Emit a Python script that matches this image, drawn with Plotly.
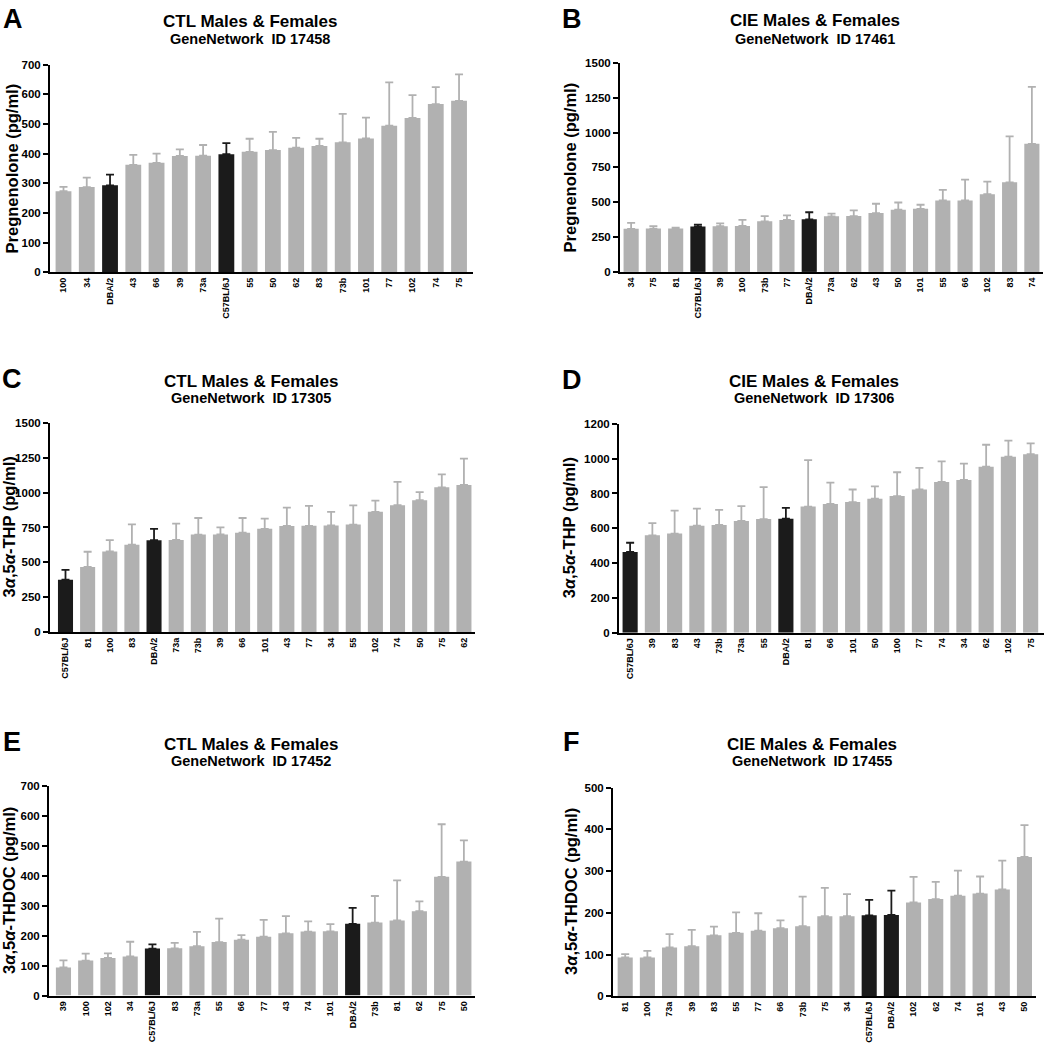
import plotly.graph_objects as go

W, H = 1044, 1050
FONT = "Liberation Sans, Arial, sans-serif"

# ---------------- data ----------------
highlight = ["C57BL/6J", "DBA/2"]

A_cats = ["100", "34", "DBA/2", "43", "66", "39", "73a", "C57BL/6J", "55", "50", "62", "83", "73b", "101", "77", "102", "74", "75"]
A_mean = [273, 287, 293, 362, 369, 392, 393, 398, 406, 412, 420, 426, 438, 451, 494, 520, 567, 578]
A_sem = [15, 32, 36, 34, 31, 22, 36, 37, 44, 61, 33, 24, 96, 70, 146, 77, 57, 89]

B_cats = ["34", "75", "81", "C57BL/6J", "39", "100", "73b", "77", "DBA/2", "73a", "62", "43", "50", "101", "55", "66", "102", "83", "74"]
B_mean = [309, 311, 311, 325, 328, 330, 363, 373, 377, 399, 401, 422, 446, 453, 513, 513, 558, 643, 919]
B_sem = [43, 17, 7, 14, 21, 43, 38, 33, 51, 19, 40, 67, 52, 29, 76, 149, 90, 330, 408]

C_cats = ["C57BL/6J", "81", "100", "83", "DBA/2", "73a", "73b", "39", "66", "101", "43", "77", "34", "55", "102", "74", "50", "75", "62"]
C_mean = [375, 467, 578, 626, 659, 661, 699, 700, 712, 740, 761, 762, 764, 771, 862, 910, 946, 1038, 1055]
C_sem = [71, 109, 81, 146, 81, 117, 119, 50, 106, 73, 131, 143, 98, 137, 81, 167, 58, 93, 188]

D_cats = ["C57BL/6J", "39", "83", "43", "73b", "73a", "55", "DBA/2", "81", "66", "101", "50", "100", "77", "74", "34", "62", "102", "75"]
D_mean = [464, 560, 570, 615, 619, 642, 653, 655, 725, 740, 751, 770, 785, 823, 866, 878, 954, 1011, 1026]
D_sem = [53, 70, 132, 98, 87, 85, 184, 62, 267, 123, 72, 71, 137, 124, 118, 94, 126, 93, 62]

E_cats = ["39", "100", "102", "34", "C57BL/6J", "83", "73a", "55", "66", "77", "43", "74", "101", "DBA/2", "73b", "81", "62", "75", "50"]
E_mean = [94, 117, 126, 131, 157, 158, 165, 179, 187, 197, 208, 214, 215, 240, 244, 251, 282, 397, 448]
E_sem = [24, 23, 15, 49, 14, 18, 48, 78, 15, 56, 58, 34, 24, 53, 89, 134, 33, 176, 71]

F_cats = ["81", "100", "73a", "39", "83", "55", "77", "66", "73b", "75", "34", "C57BL/6J", "DBA/2", "102", "62", "74", "101", "43", "50"]
F_mean = [93, 93, 117, 120, 146, 152, 157, 163, 168, 192, 192, 194, 195, 225, 233, 241, 246, 256, 334]
F_sem = [8, 16, 32, 39, 21, 49, 42, 19, 71, 68, 53, 37, 58, 61, 41, 60, 41, 69, 76]

letters = ["A", "B", "C", "D", "E", "F"]
titles = ["CTL Males & Females", "CIE Males & Females", "CTL Males & Females",
          "CIE Males & Females", "CTL Males & Females", "CIE Males & Females"]
subtitles = ["GeneNetwork  ID 17458", "GeneNetwork  ID 17461", "GeneNetwork  ID 17305",
             "GeneNetwork  ID 17306", "GeneNetwork  ID 17452", "GeneNetwork  ID 17455"]
ytitles = ["Pregnenolone (pg/ml)", "Pregnenolone (pg/ml)",
           "3<i>α</i>,5<i>α</i>-THP (pg/ml)", "3<i>α</i>,5<i>α</i>-THP (pg/ml)",
           "3<i>α</i>,5<i>α</i>-THDOC (pg/ml)", "3<i>α</i>,5<i>α</i>-THDOC (pg/ml)"]
yticks = [[0, 100, 200, 300, 400, 500, 600, 700],
          [0, 250, 500, 750, 1000, 1250, 1500],
          [0, 250, 500, 750, 1000, 1250, 1500],
          [0, 200, 400, 600, 800, 1000, 1200],
          [0, 100, 200, 300, 400, 500, 600, 700],
          [0, 100, 200, 300, 400, 500]]

panels = [(A_cats, A_mean, A_sem), (B_cats, B_mean, B_sem), (C_cats, C_mean, C_sem),
          (D_cats, D_mean, D_sem), (E_cats, E_mean, E_sem), (F_cats, F_mean, F_sem)]

# ---------------- layout geometry (pixels) ----------------
# x0, x1 (plot area), ytop, ybottom, category range lo, hi
geom = [
    (50, 473, 59.3, 269.3, -0.58, 17.6),
    (620, 1043, 57.5, 269.0, -0.5, 18.5),
    (50, 475, 421.7, 633.3, -0.7, 18.5),
    (619, 1044, 422.7, 634.0, -0.5, 18.6),
    (49, 475, 789.3, 1001.0, -0.65, 18.5),
    (613, 1036, 790.7, 1001.7, -0.55, 18.52),
]
letter_pos = [(13, 13), (572, 13), (12, 377), (572, 378), (12, 745), (571, 745)]
title_pos = [(250, 16, 33), (815, 15, 33), (251, 380, 397), (814, 380, 397), (251, 747, 764), (812, 747, 764)]
ytitle_x = [12, 570, 9, 569, 9, 571]

GRAY = "#b1b1b1"
BLACK = "#1b1b1b"


def px(x):
    return x / W


def py(y):
    return 1 - y / H


fig = go.Figure()
annotations = []

for i, (cats, mean, sem) in enumerate(panels):
    n = i + 1
    xa = "x" if n == 1 else f"x{n}"
    ya = "y" if n == 1 else f"y{n}"
    for color, is_hi in ((GRAY, False), (BLACK, True)):
        idx = [k for k, c in enumerate(cats) if (c in highlight) == is_hi]
        fig.add_trace(go.Bar(
            x=[cats[k] for k in idx], y=[mean[k] for k in idx],
            width=0.68,
            marker=dict(color=color, line=dict(width=0)),
            error_y=dict(type="data", symmetric=False,
                         array=[sem[k] for k in idx], arrayminus=[0] * len(idx),
                         color=color, thickness=1.8, width=4),
            xaxis=xa, yaxis=ya, showlegend=False, hoverinfo="x+y",
        ))
    x0, x1, yt, yb, lo, hi = geom[i]
    tv = yticks[i]
    fig.layout[("xaxis" if n == 1 else f"xaxis{n}")] = dict(
        domain=[px(x0), px(x1)], anchor=ya, type="category",
        categoryorder="array", categoryarray=cats, range=[lo, hi],
        showline=True, linecolor="black", linewidth=2, ticks="",
        tickangle=-90, tickfont=dict(family=FONT, size=9, color="black", weight="bold"),
        showgrid=False, zeroline=False, fixedrange=True,
    )
    fig.layout[("yaxis" if n == 1 else f"yaxis{n}")] = dict(
        domain=[py(yb), py(yt)], anchor=xa, range=[0, tv[-1]],
        tickvals=tv, ticktext=[str(v) for v in tv],
        showline=True, linecolor="black", linewidth=2,
        ticks="outside", ticklen=5, tickwidth=1.5, tickcolor="black",
        tickfont=dict(family=FONT, size=11.5, color="black", weight="bold"),
        showgrid=False, zeroline=False, fixedrange=True,
    )
    # panel letter
    lx, ly = letter_pos[i]
    annotations.append(dict(x=px(lx), y=py(ly), xref="paper", yref="paper",
                             text=f"<b>{letters[i]}</b>", showarrow=False,
                             xanchor="center", yanchor="middle",
                             font=dict(family=FONT, size=27, color="black")))
    tx, ty1, ty2 = title_pos[i]
    annotations.append(dict(x=px(tx), y=py(ty1), xref="paper", yref="paper",
                             text=f"<b>{titles[i]}</b>", showarrow=False,
                             xanchor="center", yanchor="middle",
                             font=dict(family=FONT, size=17, color="black")))
    annotations.append(dict(x=px(tx), y=py(ty2), xref="paper", yref="paper",
                             text=f"<b>{subtitles[i]}</b>", showarrow=False,
                             xanchor="center", yanchor="middle",
                             font=dict(family=FONT, size=14.5, color="black")))
    annotations.append(dict(x=px(ytitle_x[i]), y=py((yt + yb) / 2), xref="paper", yref="paper",
                             text=f"<b>{ytitles[i]}</b>", showarrow=False, textangle=-90,
                             xanchor="center", yanchor="middle",
                             font=dict(family=FONT, size=16.5, color="black")))

fig.update_layout(
    width=W, height=H, margin=dict(l=0, r=0, t=0, b=0),
    paper_bgcolor="white", plot_bgcolor="white",
    barmode="overlay", showlegend=False, annotations=annotations,
    font=dict(family=FONT, color="black"),
)

fig.write_html(
    "out.html",
    config={"displayModeBar": False},
    post_script="document.body.style.margin='0';document.body.style.overflow='hidden';",
)
